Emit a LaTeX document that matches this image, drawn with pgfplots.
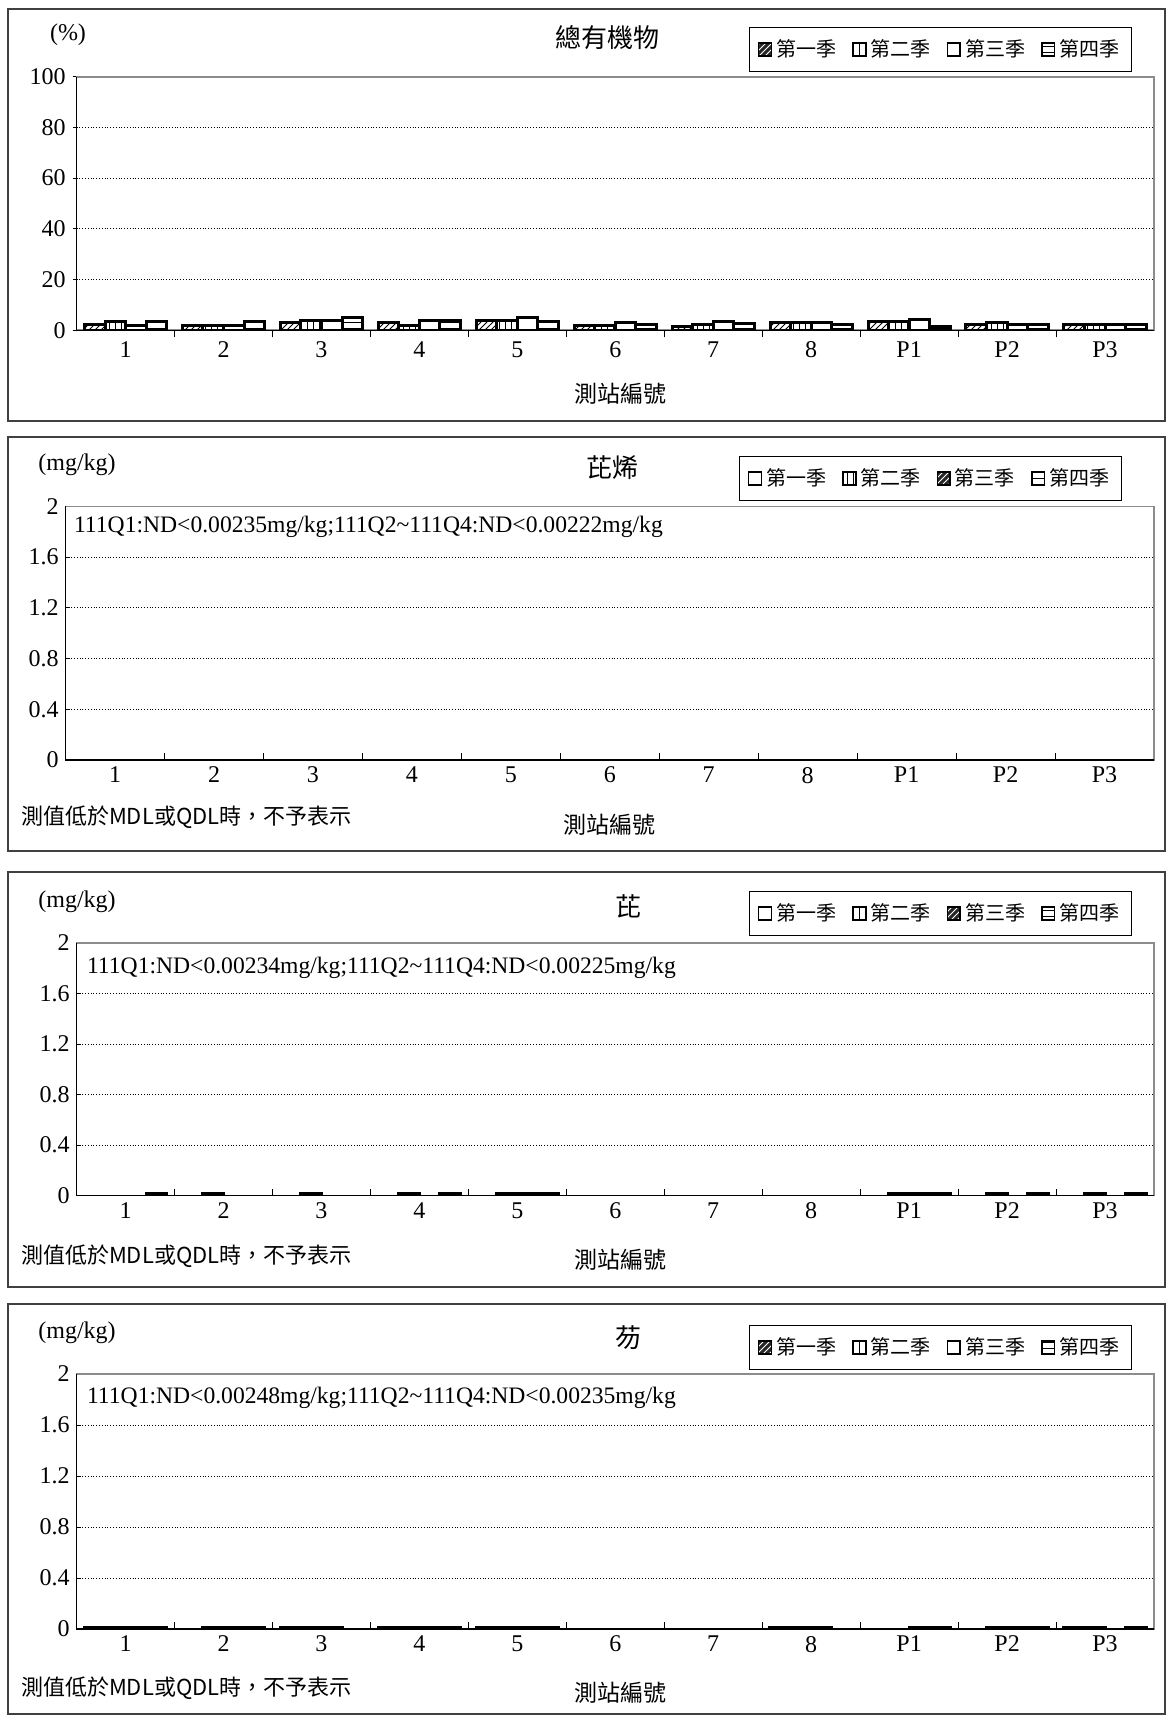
\documentclass[border=0pt]{standalone}
\usepackage{fontspec}
\setmainfont{Liberation Serif}
\newfontfamily\cjk{Noto Sans CJK TC}
\usepackage{pgfplots}
\usepackage{pgfplotstable}
\pgfplotsset{compat=1.18}
\usetikzlibrary{patterns}

\pgfplotstableread{
x q1 q2 q3 q4
0 2.4 3.4 2.0 3.4
1 2.0 2.0 2.0 3.4
2 3.1 3.8 3.8 4.9
3 3.1 2.0 3.8 3.8
4 3.8 3.8 4.9 3.4
5 2.0 2.0 3.1 2.4
6 1.4 2.4 3.4 2.7
7 3.1 3.1 3.1 2.4
8 3.4 3.4 4.2 1.4
9 2.4 3.1 2.4 2.4
10 2.4 2.4 2.4 2.4
}\toc

\pgfplotsset{
  legend image code/.code={\draw[#1] (0pt,-3.2pt) rectangle (6.4pt,3.2pt);},
  panel/.style={
    scale only axis, anchor=south west,
    xmin=-0.5, xmax=10.5, ymin=0,
    xtick={0,...,10}, xticklabels={1,2,3,4,5,6,7,8,P1,P2,P3},
    minor xtick={0.5,1.5,...,9.5},
    xtick pos=bottom, ytick pos=left,
    every major x tick/.append style={draw=none},
    minor tick length=3.5pt, major tick length=2pt,
    ymajorgrids, major grid style={black, densely dotted, line width=0.4pt},
    axis line style={draw=black!45, line width=0.9pt},
    tick style={black, line width=0.5pt},
    ticklabel style={font=\fontsize{12}{14}\selectfont},
    legend columns=4,
    legend style={anchor=north east, draw=black, line width=0.6pt,
      font=\cjk\fontsize{10}{12}\selectfont, inner xsep=4pt, inner ysep=4pt,
      /tikz/every even column/.append style={column sep=6pt}},
    after end axis/.code={\draw[black, line width=0.8pt] (rel axis cs:0,1) -- (rel axis cs:0,0) -- (rel axis cs:1,0);},
  },
  mgpanel/.style={
    ymax=2, ytick={0,0.4,0.8,1.2,1.6,2}, yticklabels={0,0.4,0.8,1.2,1.6,2},
    tick align=inside,
  },
  q/.style={ybar, bar width=0.21, forget plot, draw=black, line width=1.5pt},
  nd/.style={ybar, bar width=0.21, forget plot, draw=black, fill=black, line width=1.6pt},
}

\begin{document}
\begin{tikzpicture}
\path[use as bounding box] (0pt,0pt) rectangle (583pt,-857.5pt);
\tikzset{frame/.style={draw=black!75, line width=0.6pt}}
\draw[frame] (4pt,-4.5pt) rectangle (582.5pt,-210.5pt);
\draw[frame] (4pt,-218.5pt) rectangle (582.5pt,-425.5pt);
\draw[frame] (4pt,-436pt) rectangle (582.5pt,-643.5pt);
\draw[frame] (4pt,-652pt) rectangle (582.5pt,-857pt);

% ---------- Panel 1 ----------
\begin{axis}[panel, at={(38.3pt,-165.15pt)}, width=538.7pt, height=126.85pt,
  ymax=100, ytick={0,20,40,60,80,100}, yticklabels={0,20,40,60,80,100},
  tick align=outside,
  legend style={at={(axis description cs:0.9796,1.1955)}}]
\addlegendimage{fill=black!85, line width=0.8pt, postaction={pattern=north east lines, pattern color=white}}
\addlegendentry{第一季}
\addlegendimage{fill=white, line width=0.8pt, postaction={pattern=vertical lines}}
\addlegendentry{第二季}
\addlegendimage{fill=white, line width=0.8pt}
\addlegendentry{第三季}
\addlegendimage{fill=white, line width=0.8pt, postaction={pattern=horizontal lines}}
\addlegendentry{第四季}
\addplot[q, bar shift=-0.315, fill=white, postaction={pattern=north east lines}] table[x=x,y=q1]{\toc};
\addplot[q, bar shift=-0.105, fill=white, postaction={pattern=vertical lines}] table[x=x,y=q2]{\toc};
\addplot[q, bar shift=0.105, fill=white] table[x=x,y=q3]{\toc};
\addplot[q, bar shift=0.315, fill=white, postaction={pattern=horizontal lines}] table[x=x,y=q4]{\toc};
\end{axis}
\node at (34pt,-17.5pt) {\fontsize{12}{14}\selectfont (\%)};
\node at (303.5pt,-19pt) {\cjk\fontsize{13}{15}\selectfont 總有機物};
\node at (310pt,-197pt) {\cjk\fontsize{11.5}{13}\selectfont 測站編號};

% ---------- Panel 2 ----------
\begin{axis}[panel, mgpanel, at={(32.8pt,-380pt)}, width=544.2pt, height=126.8pt,
  legend style={at={(axis description cs:0.9706,1.1987)}}]
\addlegendimage{fill=white, line width=0.8pt}
\addlegendentry{第一季}
\addlegendimage{fill=white, line width=0.8pt, postaction={pattern=vertical lines}}
\addlegendentry{第二季}
\addlegendimage{fill=black!85, line width=0.8pt, postaction={pattern=north east lines, pattern color=white}}
\addlegendentry{第三季}
\addlegendimage{fill=white, line width=0.8pt, postaction={pattern=horizontal lines}}
\addlegendentry{第四季}
\end{axis}
\node at (38.5pt,-232.5pt) {\fontsize{12}{14}\selectfont (mg/kg)};
\node at (306pt,-234pt) {\cjk\fontsize{13}{15}\selectfont 芘烯};
\node[anchor=west] at (33.5pt,-263.5pt) {\fontsize{11.8}{13}\selectfont 111Q1:ND<0.00235mg/kg;111Q2\textasciitilde111Q4:ND<0.00222mg/kg};
\node[anchor=west] at (7pt,-408.5pt) {\cjk\fontsize{11}{13}\selectfont 測值低於MDL或QDL時，不予表示};
\node at (304.5pt,-412.5pt) {\cjk\fontsize{11.5}{13}\selectfont 測站編號};

% ---------- Panel 3 ----------
\begin{axis}[panel, mgpanel, at={(38.3pt,-597.75pt)}, width=538.7pt, height=126.25pt,
  legend style={at={(axis description cs:0.9796,1.206)}}]
\addlegendimage{fill=white, line width=0.8pt}
\addlegendentry{第一季}
\addlegendimage{fill=white, line width=0.8pt, postaction={pattern=vertical lines}}
\addlegendentry{第二季}
\addlegendimage{fill=black!85, line width=0.8pt, postaction={pattern=north east lines, pattern color=white}}
\addlegendentry{第三季}
\addlegendimage{fill=white, line width=0.8pt, postaction={pattern=horizontal lines}}
\addlegendentry{第四季}
\addplot[nd, bar shift=-0.105] coordinates {(1,0.015) (2,0.015) (3,0.015) (4,0.015) (8,0.015) (9,0.015) (10,0.015)};
\addplot[nd, bar shift=0.105] coordinates {(4,0.015) (8,0.015)};
\addplot[nd, bar shift=0.315] coordinates {(0,0.015) (3,0.015) (4,0.015) (8,0.015) (9,0.015) (10,0.015)};
\end{axis}
\node at (38.5pt,-451pt) {\fontsize{12}{14}\selectfont (mg/kg)};
\node at (314pt,-453pt) {\cjk\fontsize{13}{15}\selectfont 芘};
\node[anchor=west] at (40pt,-484pt) {\fontsize{11.8}{13}\selectfont 111Q1:ND<0.00234mg/kg;111Q2\textasciitilde111Q4:ND<0.00225mg/kg};
\node[anchor=west] at (7pt,-628pt) {\cjk\fontsize{11}{13}\selectfont 測值低於MDL或QDL時，不予表示};
\node at (310pt,-630pt) {\cjk\fontsize{11.5}{13}\selectfont 測站編號};

% ---------- Panel 4 ----------
\begin{axis}[panel, mgpanel, at={(38.3pt,-814.5pt)}, width=538.7pt, height=127.5pt,
  legend style={at={(axis description cs:0.9796,1.192)}}]
\addlegendimage{fill=black!85, line width=0.8pt, postaction={pattern=north east lines, pattern color=white}}
\addlegendentry{第一季}
\addlegendimage{fill=white, line width=0.8pt, postaction={pattern=vertical lines}}
\addlegendentry{第二季}
\addlegendimage{fill=white, line width=0.8pt}
\addlegendentry{第三季}
\addlegendimage{fill=white, line width=0.8pt, postaction={pattern=horizontal lines}}
\addlegendentry{第四季}
\addplot[nd, bar shift=-0.315] coordinates {(0,0.015) (2,0.015) (3,0.015) (4,0.015) (7,0.015) (10,0.015)};
\addplot[nd, bar shift=-0.105] coordinates {(0,0.015) (1,0.015) (2,0.015) (3,0.015) (4,0.015) (7,0.015) (9,0.015) (10,0.015)};
\addplot[nd, bar shift=0.105] coordinates {(0,0.015) (1,0.015) (2,0.015) (3,0.015) (4,0.015) (7,0.015) (8,0.015) (9,0.015)};
\addplot[nd, bar shift=0.315] coordinates {(0,0.015) (1,0.015) (3,0.015) (4,0.015) (8,0.015) (9,0.015) (10,0.015)};
\end{axis}
\node at (38.5pt,-666.5pt) {\fontsize{12}{14}\selectfont (mg/kg)};
\node at (314pt,-669pt) {\cjk\fontsize{13}{15}\selectfont 芴};
\node[anchor=west] at (40pt,-699pt) {\fontsize{11.8}{13}\selectfont 111Q1:ND<0.00248mg/kg;111Q2\textasciitilde111Q4:ND<0.00235mg/kg};
\node[anchor=west] at (7pt,-844pt) {\cjk\fontsize{11}{13}\selectfont 測值低於MDL或QDL時，不予表示};
\node at (310pt,-846.5pt) {\cjk\fontsize{11.5}{13}\selectfont 測站編號};
\end{tikzpicture}
\end{document}
